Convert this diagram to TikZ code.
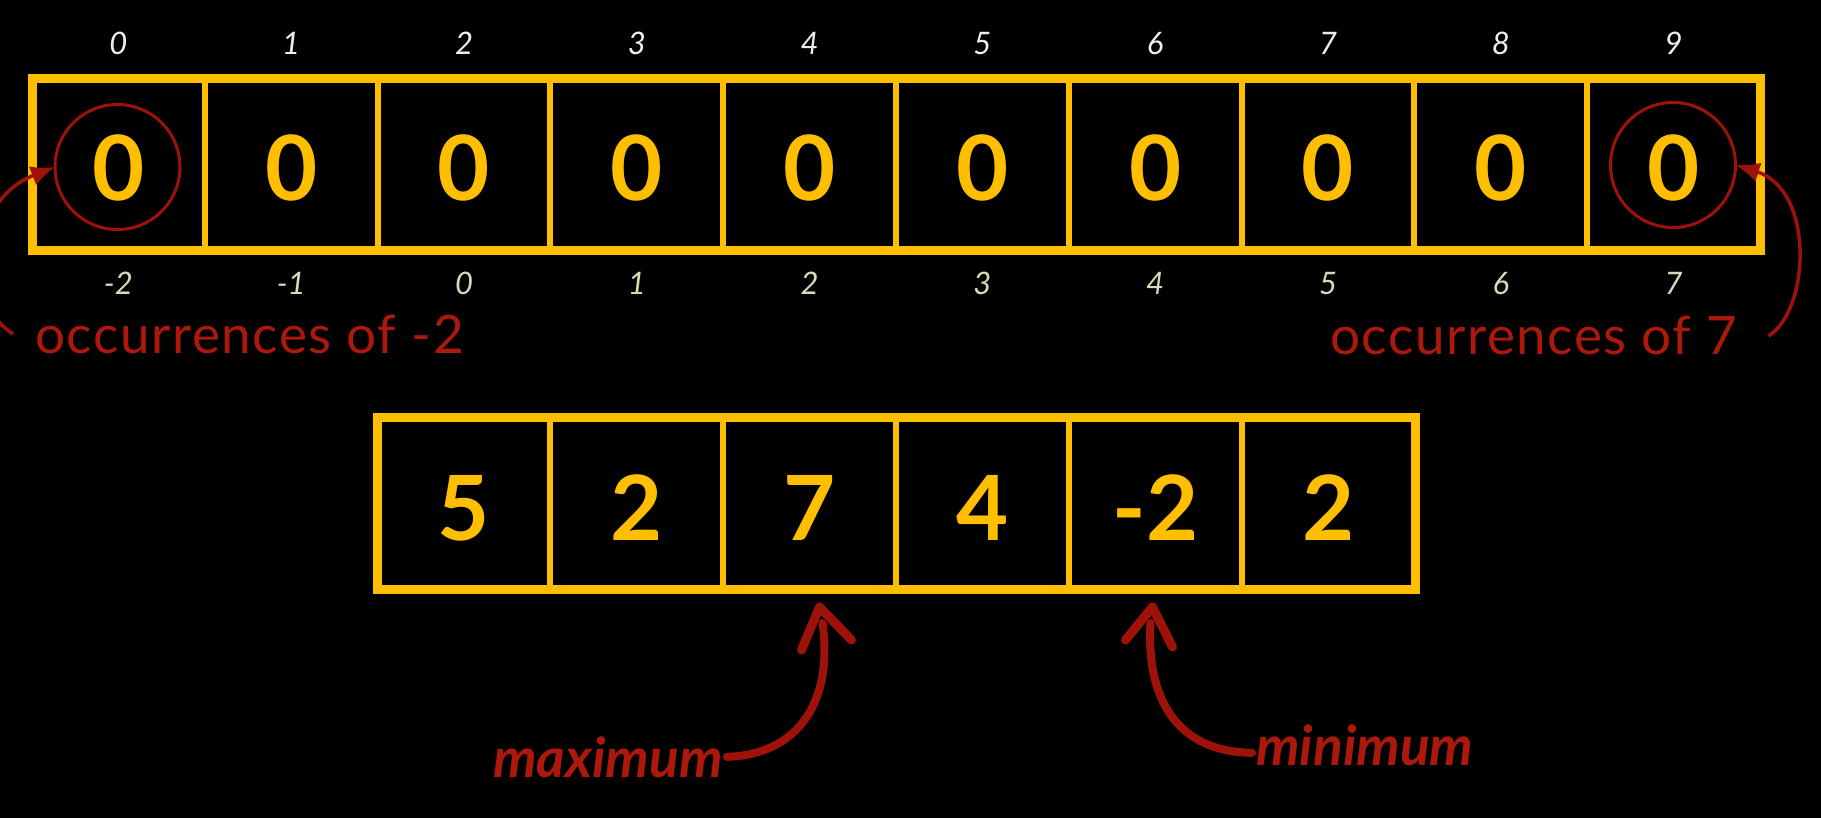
\documentclass[tikz,border=0pt]{standalone}
\usepackage{fontspec}
\setmainfont{Lato}
\usetikzlibrary{arrows.meta}
\definecolor{gold}{RGB}{255,190,0}
\definecolor{redtxt}{RGB}{172,24,12}
\definecolor{redline}{RGB}{158,18,10}
\definecolor{idxtop}{RGB}{240,238,232}
\definecolor{idxbot}{RGB}{208,222,184}
\begin{document}
\begin{tikzpicture}[x=1pt,y=-1pt,
  cell/.style={draw=gold, line width=6pt, minimum width=172.8pt, minimum height=172pt, inner sep=0pt, outer sep=0pt},
  cellb/.style={draw=gold, line width=6pt, minimum width=173pt, minimum height=172pt, inner sep=0pt, outer sep=0pt},
  frame/.style={draw=gold, line width=9pt},
  big/.style={text=gold, font=\fontsize{90}{90}\selectfont\bfseries, anchor=base, inner sep=0pt},
  idxt/.style={text=idxtop, font=\fontsize{31}{31}\selectfont\itshape, anchor=base, inner sep=0pt},
  idxb/.style={text=idxbot, font=\fontsize{31}{31}\selectfont\itshape, anchor=base, inner sep=0pt},
  note/.style={text=redtxt, font=\fontsize{53}{53}\selectfont\addfontfeature{LetterSpace=3}, anchor=base west, inner sep=0pt},
  lab/.style={text=redtxt, font=\fontsize{55}{55}\selectfont\bfseries\itshape, anchor=base west, inner sep=0pt},
  ring/.style={draw=redline, line width=3pt, circle, minimum size=125pt, inner sep=0pt, outer sep=0pt},
  thinarrow/.style={draw=redline, line width=3.5pt, -{Latex[length=24pt,width=20pt]}},
  shaft/.style={draw=redline, line width=8pt, line cap=round},
  head/.style={draw=redline, line width=9pt, line cap=round, line join=round}
]
\fill[black] (0,0) rectangle (1821,818);
\useasboundingbox (0,0) rectangle (1821,818);

% top array
\foreach \i in {0,...,9} {
  \node[cell] (t\i) at ({32+172.8*(\i+0.5)},165) {};
  \node[big] (d\i) at ({32+172.8*(\i+0.5)},201) {0};
  \node[idxt] (it\i) at ({32+172.8*(\i+0.5)},55) {\i};
}
\foreach \v [count=\i from 0] in {-2,-1,0,1,2,3,4,5,6,7} {
  \node[idxb] (ib\i) at ({32+172.8*(\i+0.5)},295) {\v};
}
\draw[frame] (t0.north west) rectangle (t9.south east);

% bottom array
\foreach \v [count=\i from 0] in {5,2,7,4,-2,2} {
  \node[cellb] (b\i) at ({377+173*(\i+0.5)},503) {};
  \node[big] (bd\i) at ({377+173*(\i+0.5)},540) {\v};
}
\draw[frame] (b0.north west) rectangle (b5.south east);

% circles and notes
\node[ring] (r0) at (117.5,167) {};
\node[ring] (r9) at (1673,165) {};
\node[note] (n0) at (35,353) {occurrences of -2};
\node[note] (n9) at (1330,355) {occurrences of 7};

\begin{scope}
\clip (0,0) rectangle (1821,818);
\draw[thinarrow] ([xshift=-22pt]n0.west) .. controls (-40,300) and (-30,200) .. (r0.west);
\draw[thinarrow] ([xshift=31pt]n9.east) .. controls (1810,310) and (1815,190) .. (r9.east);
\end{scope}

% maximum / minimum
\node[lab] (lmax) at (493,777) {maximum};
\node[lab] (lmin) at (1256,765) {minimum};
\coordinate (tmax) at ([xshift=10pt,yshift=-18pt]b2.south);
\coordinate (tmin) at ([xshift=-3pt,yshift=-18pt]b4.south);
\draw[shaft] ([xshift=4pt]lmax.east) .. controls (795,755) and (834,705) .. ([shift={(3,16)}]tmax);
\draw[head] ([shift={(-18,43)}]tmax) -- (tmax) -- ([shift={(32,33)}]tmax);
\draw[shaft] ([xshift=-4pt,yshift=-8pt]lmin.west) .. controls (1178,752) and (1146,700) .. ([shift={(-2,16)}]tmin);
\draw[head] ([shift={(-27,33)}]tmin) -- (tmin) -- ([shift={(20,40)}]tmin);
\end{tikzpicture}
\end{document}
